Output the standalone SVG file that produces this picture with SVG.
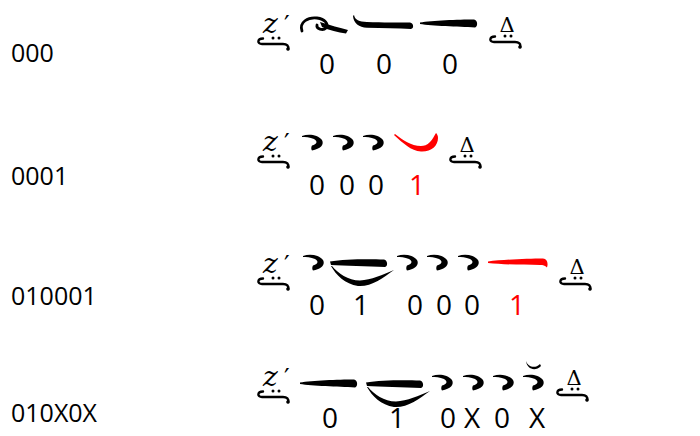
<svg xmlns="http://www.w3.org/2000/svg" xmlns:xlink="http://www.w3.org/1999/xlink" width="700" height="436" viewBox="0 0 700 436">
<style>
.lbl{font-family:"Open Sans","Noto Sans",sans-serif;font-size:25px;fill:#000}
.dig{font-family:"Open Sans","Noto Sans",sans-serif;font-size:28px;fill:#000;text-anchor:middle}
.red{fill:#ff0000}
.z{font-family:"DejaVu Serif",serif;font-style:italic;font-size:28px;fill:#000}
.pr{font-family:"DejaVu Serif",serif;font-size:25px;fill:#000}
.dl{font-family:"DejaVu Serif",serif;font-size:21px;fill:#000;text-anchor:middle}
.hk{fill:none;stroke:#000;stroke-width:2.4;stroke-linecap:round}
</style>
<defs>
<g id="mhook">
<circle cx="15" cy="1" r="1.5"/>
<circle cx="21" cy="1" r="1.5"/>
<path class="hk" d="M5,1.5 C-1,1.5 -1,7 4,7 L25,7 C29,7 31,9 30,12"/>
<circle cx="30" cy="12" r="1.8"/>
</g>
<g id="mstart">
<use xlink:href="#mhook"/>
<text class="z" x="5" y="-4">z</text>
<text class="pr" x="26" y="-4">′</text>
</g>
<g id="mend">
<use xlink:href="#mhook"/>
<text class="dl" x="17" y="-3">Δ</text>
</g>
<path id="apo" d="M0,1 C7,-1.5 16,0 20,5 C22.5,9.5 18.5,14 10,15.5 C9,14.5 9,12 10,10.5 C15,9 16,6.5 12,4 C8,2.2 3,2 0,2 Z"/>
<path id="olig" d="M0,2.5 C12,0.5 38,-0.5 54,-0.5 C58,0 58,7 55,7.5 C38,6.5 12,6 0,4 Z"/>
<path id="ison" d="M1,0 C2,5 6,6.5 14,7 C30,7.5 45,7.5 57,7.5 C61,8.5 61,13.5 58,14 C45,13.5 30,13 14,12.8 C6,12.5 0.5,8 0,1 Z"/>
<g id="pet">
<path d="M0,1.5 C14,-1 38,-1 54,-0.5 C58,0.5 58,6.5 55,7 C38,6 14,6 1,5 Z"/>
<path d="M1,6 C6,15 15,24 28,26 C41,27 53,18 64,10 C53,14.5 41,20 30,20.5 C18,20.5 8,13 2,6 Z"/>
</g>
<path id="redhook" d="M1,2 C10,10 18,18 28,18.5 C38,19 45,13 45,5 C45,2.5 44,1 43,0 C41,3 40,6 37,9 C34,12 31,13 28,13 C18,13 10,7 2,1 Z"/>
<path id="redbar" d="M0,2.5 C15,0.5 40,-0.5 55,-0.5 C59,0 60.5,4 59,8.5 C57,6.5 55,6 52,6 C36,6 15,5.5 0,4 Z"/>
</defs>

<g id="labels">
<text class="lbl" x="11" y="62">000</text>
<text class="lbl" x="11" y="185">0001</text>
<text class="lbl" x="11" y="305">010001</text>
<text class="lbl" x="11" y="422">010X0X</text>
</g>

<g id="row1">
<use xlink:href="#mstart" transform="translate(258,37)"/>
<g id="r1-swirl">
<path d="M302,31 C299,22 308,17 317,18 C325,19 329,24 326,28 C323,31 316,29 317,25" fill="none" stroke="#000" stroke-width="2.8" stroke-linecap="round"/>
<path d="M320,22 C330,25 340,28 348,30 L346,33.5 C338,32.5 329,30 322,27 Z"/>
</g>
<use xlink:href="#ison" transform="translate(353,15)"/>
<use xlink:href="#olig" transform="translate(420,20)"/>
<use xlink:href="#mend" transform="translate(490,35)"/>
<text class="dig" x="327" y="74">0</text>
<text class="dig" x="384" y="74">0</text>
<text class="dig" x="450" y="74">0</text>
</g>

<g id="row2">
<use xlink:href="#mstart" transform="translate(258,155)"/>
<use xlink:href="#apo" transform="translate(302,135)"/>
<use xlink:href="#apo" transform="translate(333,135)"/>
<use xlink:href="#apo" transform="translate(363,135)"/>
<use xlink:href="#redhook" class="red" transform="translate(393,133)"/>
<use xlink:href="#mend" transform="translate(450,155)"/>
<text class="dig" x="317" y="195">0</text>
<text class="dig" x="347" y="195">0</text>
<text class="dig" x="376" y="195">0</text>
<text class="dig red" x="417" y="195">1</text>
</g>

<g id="row3">
<use xlink:href="#mstart" transform="translate(258,277)"/>
<use xlink:href="#apo" transform="translate(303,255)"/>
<use xlink:href="#pet" transform="translate(330,260)"/>
<use xlink:href="#apo" transform="translate(397,255)"/>
<use xlink:href="#apo" transform="translate(427,255)"/>
<use xlink:href="#apo" transform="translate(458,255)"/>
<use xlink:href="#redbar" class="red" transform="translate(488,259)"/>
<use xlink:href="#mend" transform="translate(560,277)"/>
<text class="dig" x="317" y="315">0</text>
<text class="dig" x="361" y="315">1</text>
<text class="dig" x="415" y="315">0</text>
<text class="dig" x="444" y="315">0</text>
<text class="dig" x="472" y="315">0</text>
<text class="dig red" x="517" y="315">1</text>
</g>

<g id="row4">
<use xlink:href="#mstart" transform="translate(258,390)"/>
<use xlink:href="#olig" transform="translate(300,380)"/>
<use xlink:href="#pet" transform="translate(366,381)"/>
<use xlink:href="#apo" transform="translate(432,375)"/>
<use xlink:href="#apo" transform="translate(463,375)"/>
<use xlink:href="#apo" transform="translate(493,375)"/>
<use xlink:href="#apo" transform="translate(523,375)"/>
<path d="M526,361 C528,367 535,369 540,364 L541,366 C535,372 527,369 526,361 Z"/>
<use xlink:href="#mend" transform="translate(557,388)"/>
<text class="dig" x="330" y="428">0</text>
<text class="dig" x="397" y="428">1</text>
<text class="dig" x="448" y="428">0</text>
<text class="dig" x="472" y="428">X</text>
<text class="dig" x="502" y="428">0</text>
<text class="dig" x="537" y="428">X</text>
</g>
</svg>
